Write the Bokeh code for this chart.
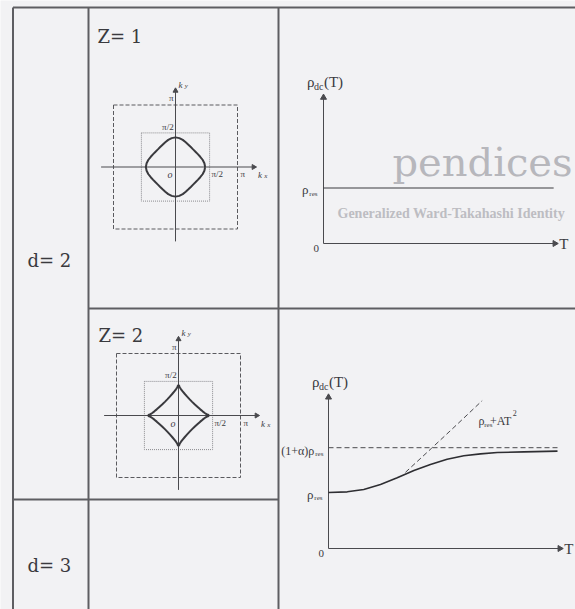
import math
from bokeh.plotting import figure
from bokeh.models import Range1d
from bokeh.core.properties import value
from bokeh.embed import file_html
from bokeh.resources import INLINE

# ---------------- data ----------------
ROW_LABELS = ["d= 2", "d= 3"]
FILLING_LABELS = ["Z= 1", "Z= 2"]

# Fermi surfaces, first octant (kx, ky in units of pi); the rest follows by square symmetry
FS1_KX = [0.478, 0.466, 0.437, 0.399, 0.360, 0.322, 0.284]
FS1_KY = [0.000, 0.061, 0.117, 0.165, 0.208, 0.247, 0.284]
FS2_KX = [0.487, 0.484, 0.477, 0.465, 0.451, 0.423, 0.389, 0.351, 0.309, 0.264, 0.220]
FS2_KY = [0.000, 0.006, 0.011, 0.015, 0.022, 0.041, 0.067, 0.099, 0.136, 0.177, 0.220]
BZ_EDGE = 1.0      # dashed square, k = +-pi
INNER_EDGE = 0.55  # dotted square around +-pi/2

# resistivity sketches (T arbitrary units, rho in units of rho_res)
RHO_RES = 1.0
ALPHA = 0.8
T_FLAT = [0.0, 10.05]
RHO_FLAT = [RHO_RES, RHO_RES]
T_CURVE = [0.0, 0.82, 1.54, 2.27, 3.00, 3.73, 4.45, 5.18, 5.91, 6.64, 7.37, 8.53, 10.0]
RHO_CURVE = [1.0, 1.012, 1.055, 1.143, 1.262, 1.393, 1.50, 1.595, 1.655, 1.69, 1.714, 1.726, 1.738]
T_QUAD = [3.36, 4.5, 5.6, 6.71]
RHO_QUAD = [1.36, 1.79, 2.21, 2.64]

# ---------------- page ----------------
W, H = 575, 609
BG = "#f2f2f4"
INK = "#3a3a3e"
RULE = "#5e5e62"
SERIF = value("DejaVu Serif")
TIMES = value("Liberation Serif")

p = figure(width=W, height=H, x_range=Range1d(0, W), y_range=Range1d(H, 0),
           output_backend="svg", toolbar_location=None, min_border=0,
           x_axis_location=None, y_axis_location=None)
p.grid.visible = False
p.outline_line_color = None
p.background_fill_color = BG
p.border_fill_color = BG

# faint show-through from the facing page
p.text(x=[392], y=[161], text=["pendices"], text_font=SERIF, text_font_size="40px",
       text_color="#b7b7bc", text_baseline="alphabetic")
p.text(x=[337], y=[213], text=["Generalized Ward-Takahashi Identity"], text_font=TIMES,
       text_font_size="14px", text_font_style="bold", text_color="#bdbdc2",
       text_baseline="alphabetic")

# table rules
COL_X = [12.5, 88, 278]
TOP_Y, ROW1_Y, ROW2_Y = 7, 308, 499
p.segment(x0=[COL_X[0], COL_X[1], COL_X[2], COL_X[0], COL_X[1], COL_X[0]],
          y0=[TOP_Y, TOP_Y, TOP_Y, TOP_Y, ROW1_Y, ROW2_Y],
          x1=[COL_X[0], COL_X[1], COL_X[2], W, W, COL_X[2]],
          y1=[H, H, H, TOP_Y, ROW1_Y, ROW2_Y],
          line_color=RULE, line_width=2)

# row and column headers
p.text(x=[27, 27], y=[260, 565], text=ROW_LABELS, text_font=SERIF, text_font_size="18px",
       text_color=INK, text_baseline="alphabetic")
p.text(x=[97, 98], y=[36, 335], text=FILLING_LABELS, text_font=SERIF, text_font_size="18px",
       text_color=INK, text_baseline="alphabetic")


def octant_to_loop(ox, oy):
    qx = list(ox) + list(oy[-2::-1])
    qy = list(oy) + list(ox[-2::-1])
    xs = qx + [-v for v in qx[-2::-1]] + [-v for v in qx[1:]] + qx[-2::-1]
    ys = qy + qy[-2::-1] + [-v for v in qy[1:]] + [-v for v in qy[-2::-1]]
    return xs, ys


def fermi_panel(cx, cy, ox, oy):
    s = 62
    sub = p.subplot(x_source=Range1d(-1, 1), y_source=Range1d(-1, 1),
                    x_target=Range1d(cx - s, cx + s), y_target=Range1d(cy + s, cy - s))
    # Brillouin-zone boxes
    sub.rect(x=0, y=0, width=2 * BZ_EDGE, height=2 * BZ_EDGE, fill_color=None,
             line_color="#5a5a5e", line_width=1, line_dash="4 2")
    sub.rect(x=0, y=0, width=2 * INNER_EDGE, height=2 * INNER_EDGE, fill_color=None,
             line_color="#8a8a8e", line_width=1, line_dash="1 1")
    # axes
    sub.segment(x0=[-1.2, 0], y0=[0, -1.2], x1=[1.25, 0], y1=[0, 1.22],
                line_color="#4a4a4e", line_width=1)
    sub.scatter(x=[1.26, 0], y=[0, 1.23], marker="triangle", size=5,
                angle=[-math.pi / 2, 0], fill_color="#4a4a4e", line_color="#4a4a4e")
    # Fermi surface
    xs, ys = octant_to_loop(ox, oy)
    sub.line(x=xs, y=ys, line_color="#3a3a3e", line_width=2, line_join="round")
    # tick labels
    sub.text(x=[-0.03, -0.03], y=[1.03, 0.57], text=["π", "π/2"], text_font=TIMES,
             text_font_size="9px", text_color=INK, text_align="right", text_baseline="bottom")
    sub.text(x=[0.58, 1.05], y=[-0.04, -0.04], text=["π/2", "π"], text_font=TIMES,
             text_font_size="9px", text_color=INK, text_align="left", text_baseline="top")
    sub.text(x=[-0.05], y=[-0.04], text=["o"], text_font=TIMES, text_font_size="10px",
             text_font_style="italic", text_color=INK, text_align="right", text_baseline="top")
    sub.text(x=[1.33, 0.05], y=[-0.13, 1.33], text=["k", "k"], text_font=TIMES,
             text_font_size="9px", text_font_style="italic", text_color=INK,
             text_baseline="alphabetic")
    sub.text(x=[1.43, 0.15], y=[-0.15, 1.31], text=["x", "y"], text_font=TIMES,
             text_font_size="7px", text_font_style="italic", text_color=INK,
             text_baseline="alphabetic")


fermi_panel(175, 166.5, FS1_KX, FS1_KY)
fermi_panel(178, 415, FS2_KX, FS2_KY)


def rho_axes(x0, y0, y_res, top):
    sub = p.subplot(x_source=Range1d(0, 10), y_source=Range1d(0, 1),
                    x_target=Range1d(x0, x0 + 229), y_target=Range1d(y0, y_res))
    sub.segment(x0=[0, 0], y0=[0, 0], x1=[10.05, 0], y1=[0, top],
                line_color="#4a4a4e", line_width=1)
    sub.scatter(x=[10.1, 0], y=[0, top], marker="triangle", size=6,
                angle=[-math.pi / 2, 0], fill_color="#4a4a4e", line_color="#4a4a4e")
    sub.text(x=[-0.2], y=[-0.03], text=["0"], text_font=TIMES, text_font_size="11px",
             text_color=INK, text_align="right", text_baseline="top")
    sub.text(x=[10.3], y=[0], text=["T"], text_font=TIMES, text_font_size="15px",
             text_color=INK, text_align="left", text_baseline="middle")
    # rho_dc(T) axis title
    sub.text(x=[-0.72], y=[top + 0.28], text=["ρ"], text_font=TIMES, text_font_size="15px",
             text_color=INK, text_baseline="alphabetic")
    sub.text(x=[-0.42], y=[top + 0.2], text=["dc"], text_font=TIMES, text_font_size="10px",
             text_color=INK, text_baseline="alphabetic")
    sub.text(x=[0.02], y=[top + 0.28], text=["(T)"], text_font=TIMES, text_font_size="15px",
             text_color=INK, text_baseline="alphabetic")
    # rho_res tick label
    sub.text(x=[-0.66], y=[RHO_RES - 0.03], text=["ρ"], text_font=TIMES, text_font_size="13px",
             text_color=INK, text_align="right", text_baseline="alphabetic")
    sub.text(x=[-0.62], y=[RHO_RES - 0.1], text=["res"], text_font=TIMES, text_font_size="7px",
             text_color=INK, text_align="left", text_baseline="alphabetic")
    return sub


r1 = rho_axes(323, 243, 187.5, 2.63)
r1.line(x=T_FLAT, y=RHO_FLAT, line_color="#3a3a3e", line_width=1.2)

r2 = rho_axes(328, 548, 492, 2.70)
r2.line(x=[0, 10], y=[(1 + ALPHA) * RHO_RES] * 2, line_color="#4a4a4e", line_width=1,
        line_dash="5 3")
r2.line(x=T_QUAD, y=RHO_QUAD, line_color="#4a4a4e", line_width=1, line_dash="5 3")
r2.line(x=T_CURVE, y=RHO_CURVE, line_color="#2e2e32", line_width=1.6, line_join="round")
r2.text(x=[-0.62], y=[(1 + ALPHA) * RHO_RES - 0.05], text=["(1+α)ρ"], text_font=TIMES,
        text_font_size="12px", text_color=INK, text_align="right", text_baseline="alphabetic")
r2.text(x=[-0.58], y=[(1 + ALPHA) * RHO_RES - 0.12], text=["res"], text_font=TIMES,
        text_font_size="7px", text_color=INK, text_align="left", text_baseline="alphabetic")
r2.text(x=[6.55], y=[2.28], text=["ρ"], text_font=TIMES, text_font_size="12px",
        text_color=INK, text_baseline="alphabetic")
r2.text(x=[6.8], y=[2.21], text=["res"], text_font=TIMES, text_font_size="7px",
        text_color=INK, text_baseline="alphabetic")
r2.text(x=[7.05], y=[2.28], text=["+AT"], text_font=TIMES, text_font_size="12px",
        text_color=INK, text_baseline="alphabetic")
r2.text(x=[8.05], y=[2.42], text=["2"], text_font=TIMES, text_font_size="8px",
        text_color=INK, text_baseline="alphabetic")

open("out.html", "w").write(file_html(p, INLINE))
